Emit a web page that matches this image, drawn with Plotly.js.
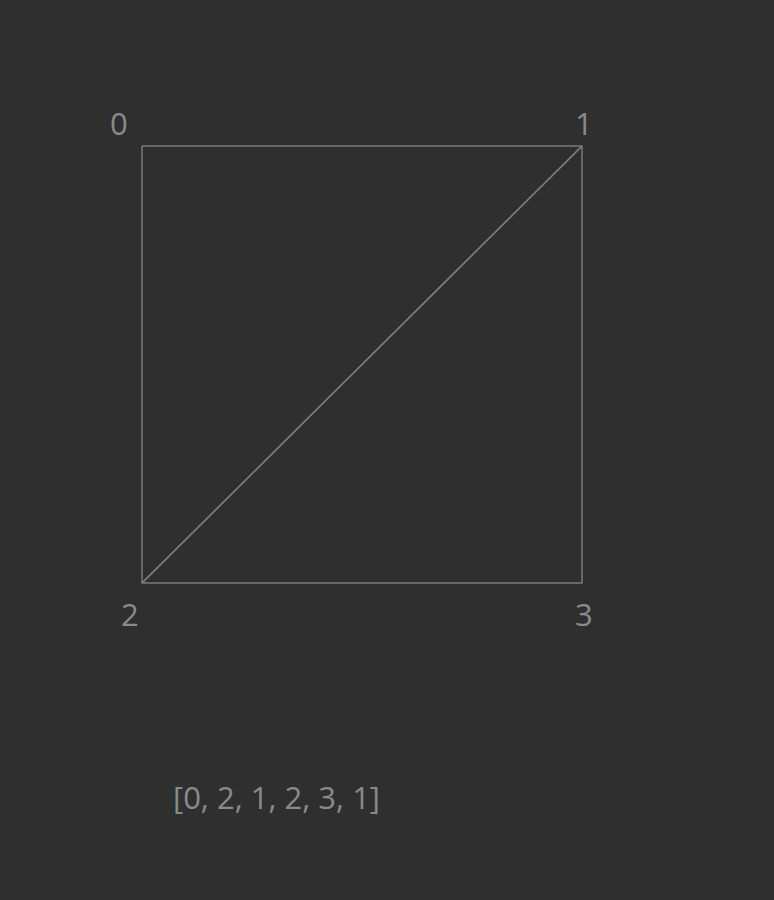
<!DOCTYPE html>
<html>
<head>
<meta charset="utf-8">
<script src="https://cdn.plot.ly/plotly-3.0.1.min.js"></script>
<style>html,body{margin:0;padding:0;background:#2f2f2f;}</style>
</head>
<body>
<div id="chart" style="width:774px;height:900px;"></div>
<script>
// vertex positions of the quad and the triangle index list
const vertexX = [0, 1, 0, 1];
const vertexY = [1, 1, 0, 0];
const vertexLabels = ['0', '1', '2', '3'];
const indices = [0, 2, 1, 2, 3, 1];

// label placement per vertex (pixel shifts)
const labelShiftX = [-23, 2, -12, 2];
const labelShiftY = [23, 23, -31, -31];

let lx = [], ly = [];
for (let t = 0; t < indices.length; t += 3) {
  for (let k = 0; k <= 3; k++) {
    let v = indices[t + (k % 3)];
    lx.push(vertexX[v]);
    ly.push(vertexY[v]);
  }
  lx.push(null);
  ly.push(null);
}

let data = [{
  x: lx, y: ly,
  mode: 'lines',
  type: 'scatter',
  line: {color: '#7a7a7a', width: 1.5},
  hoverinfo: 'skip'
}];

let annotations = vertexLabels.map((lab, i) => ({
  x: vertexX[i], y: vertexY[i],
  text: lab, showarrow: false,
  xshift: labelShiftX[i], yshift: labelShiftY[i],
  font: {family: 'Open Sans, sans-serif', size: 31, color: '#8a8a8a'}
}));
annotations.push({
  x: 0.305, y: -0.49,
  text: '[' + indices.join(', ') + ']',
  showarrow: false,
  font: {family: 'Open Sans, sans-serif', size: 31, color: '#8a8a8a'}
});

let layout = {
  width: 774, height: 900,
  margin: {l: 0, r: 0, t: 0, b: 0},
  paper_bgcolor: '#2f2f2f',
  plot_bgcolor: '#2f2f2f',
  showlegend: false,
  xaxis: {range: [-142 / 440, 632 / 440], visible: false, fixedrange: true},
  yaxis: {range: [-317 / 437, 1 + 146 / 437], visible: false, fixedrange: true},
  annotations: annotations
};

Plotly.newPlot('chart', data, layout, {displayModeBar: false, staticPlot: true});
</script>
</body>
</html>
